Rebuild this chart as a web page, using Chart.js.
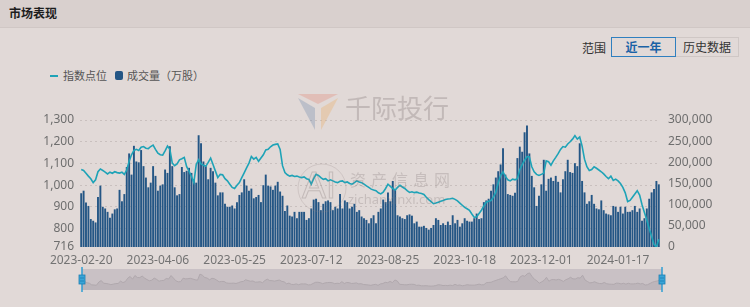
<!DOCTYPE html>
<html>
<head>
<meta charset="utf-8">
<script src="https://cdn.jsdelivr.net/npm/chart.js@4.4.0/dist/chart.umd.min.js"></script>
<style>
  body { margin: 0; width: 750px; height: 307px; background: #e1d9d7; overflow: hidden; position: relative;
         font-family: "Noto Sans CJK SC", "Noto Sans", sans-serif; }
  .head { position: absolute; left: 0; top: 0; width: 750px; height: 27px; background: #d9d0ce; border-bottom: 1px solid #d0c7c5; }
  .head span { position: absolute; left: 9px; top: 4px; font-size: 12px; font-weight: bold; color: #1e1e1e; }
  .range { position: absolute; left: 582px; top: 39px; font-size: 12px; color: #333; }
  .btn { position: absolute; top: 37px; height: 18px; line-height: 18px; font-size: 12px; text-align: center; box-sizing: content-box; }
  .btn.on { left: 611px; width: 63px; border: 1px solid #2f7fbf; color: #1a62a6; font-weight: bold; }
  .btn.off { left: 676px; width: 62px; border: 1px solid #cfc7c5; border-left: none; color: #333; }
  .lg { position: absolute; top: 67px; font-size: 11px; color: #555; }
  .lgLine { position: absolute; left: 50px; top: 75px; width: 8px; height: 2px; background: #1fa3b7; }
  .lgBox { position: absolute; left: 115px; top: 71px; width: 8px; height: 9px; border-radius: 2px; background: #245685; }
  #main { position: absolute; left: 0; top: 82px; }
  #nav { position: absolute; left: 0; top: 266px; }
</style>
</head>
<body>
<div class="head"><span>市场表现</span></div>
<div class="range">范围</div>
<div class="btn on">近一年</div>
<div class="btn off">历史数据</div>
<div class="lgLine"></div><div class="lg" style="left:63px">指数点位</div>
<div class="lgBox"></div><div class="lg" style="left:127px">成交量（万股）</div>
<canvas id="main" width="750" height="188"></canvas>
<canvas id="nav" width="750" height="27"></canvas>
<script>
// trading calendar (SSE holidays in the window)
const startDay = '2023-02-20';
const endDay = '2024-02-19';
const holidays = ['2023-04-05', '2023-05-01', '2023-05-02', '2023-05-03', '2023-06-22', '2023-06-23',
  '2023-09-29', '2023-10-02', '2023-10-03', '2023-10-04', '2023-10-05', '2023-10-06', '2024-01-01',
  '2024-02-09', '2024-02-12', '2024-02-13', '2024-02-14', '2024-02-15', '2024-02-16'];

const dates = [];
for (let d = new Date(startDay + 'T00:00:00Z'); d <= new Date(endDay + 'T00:00:00Z'); d.setUTCDate(d.getUTCDate() + 1)) {
  const s = d.toISOString().slice(0, 10);
  const wd = d.getUTCDay();
  if (wd !== 0 && wd !== 6 && !holidays.includes(s)) dates.push(s);
}

const tickDates = ['2023-02-20', '2023-04-06', '2023-05-25', '2023-07-12', '2023-08-25', '2023-10-18', '2023-12-01', '2024-01-17'];
const leftTicks = [716, 800, 900, 1000, 1100, 1200, 1300];
const rightTicks = [0, 50000, 100000, 150000, 200000, 250000, 300000];

// 指数点位
const indexPoints = [
  1072, 1068, 1055, 1042, 1030, 1012, 1025, 1062, 1075, 1068,
  1060, 1052, 1060, 1055, 1062, 1058, 1056, 1060, 1050, 1070,
  1110, 1140, 1160, 1165, 1160, 1175, 1178, 1170, 1168, 1178,
  1185, 1165, 1147, 1140, 1138, 1158, 1180, 1165, 1102, 1090,
  1098, 1117, 1122, 1128, 1085, 1065, 1040, 1012, 1095, 1117,
  1098, 1092, 1087, 1105, 1125, 1095, 1065, 1035, 1050, 1048,
  1030, 1020, 1005, 990, 985, 1000, 1012, 1035, 1057, 1080,
  1102, 1132, 1120, 1128, 1110, 1125, 1140, 1162, 1165, 1177,
  1185, 1188, 1190, 1165, 1090, 1058, 1048, 1042, 1045, 1040,
  1042, 1038, 1035, 1038, 1030, 1027, 1005, 1030, 1050, 1045,
  1035, 1027, 1030, 1020, 1025, 1020, 1015, 1012, 1018, 1020,
  1012, 1015, 1008, 1005, 1012, 1020, 1015, 1012, 1005, 997,
  990, 982, 978, 975, 965, 960, 968, 985, 1005, 995,
  985, 978, 990, 1000, 992, 985, 975, 967, 970, 966,
  968, 964, 962, 958, 945, 934, 925, 915, 918, 922,
  926, 930, 934, 937, 938, 940, 935, 928, 918, 908,
  898, 892, 885, 868, 852, 855, 870, 885, 905, 922,
  926, 930, 945, 968, 1010, 1045, 1062, 1040, 1025, 1020,
  1028, 1025, 1030, 1072, 1095, 1115, 1132, 1130, 1085, 1062,
  1050, 1045, 1050, 1055, 1112, 1108, 1092, 1112, 1128, 1145,
  1165, 1178, 1175, 1190, 1200, 1212, 1228, 1212, 1222, 1180,
  1120, 1085, 1068, 1072, 1085, 1078, 1070, 1062, 1052, 1040,
  1030, 1042, 1022, 1028, 1020, 1008, 990, 965, 925, 930,
  945, 960, 975, 955, 910, 875, 840, 800, 765, 728,
  716, 752
];

// 成交量（万股）
const volume = [
  127000, 133000, 105000, 97000, 66000, 62000, 58000, 118000, 145000, 95000,
  91000, 83000, 69000, 79000, 89000, 91000, 135000, 108000, 125000, 189000,
  221000, 171000, 239000, 202000, 200000, 229000, 191000, 164000, 141000, 152000,
  191000, 168000, 133000, 145000, 148000, 183000, 175000, 238000, 191000, 141000,
  122000, 125000, 189000, 177000, 180000, 187000, 175000, 160000, 152000, 264000,
  245000, 202000, 191000, 160000, 187000, 179000, 152000, 122000, 129000, 129000,
  102000, 95000, 95000, 98000, 91000, 106000, 123000, 129000, 160000, 145000,
  133000, 138000, 115000, 118000, 123000, 106000, 146000, 171000, 145000, 143000,
  135000, 145000, 154000, 131000, 121000, 85000, 98000, 74000, 72000, 83000,
  68000, 83000, 83000, 83000, 64000, 68000, 91000, 112000, 114000, 106000,
  87000, 102000, 108000, 110000, 106000, 87000, 95000, 91000, 125000, 91000,
  110000, 106000, 91000, 95000, 102000, 83000, 87000, 72000, 68000, 64000,
  56000, 68000, 75000, 56000, 83000, 91000, 112000, 106000, 129000, 108000,
  156000, 137000, 75000, 72000, 68000, 66000, 75000, 77000, 74000, 56000,
  60000, 48000, 48000, 50000, 45000, 41000, 45000, 52000, 68000, 64000,
  52000, 56000, 52000, 60000, 52000, 75000, 56000, 64000, 48000, 56000,
  68000, 62000, 60000, 60000, 68000, 79000, 66000, 68000, 106000, 110000,
  114000, 133000, 148000, 164000, 179000, 195000, 233000, 171000, 125000, 123000,
  121000, 128000, 210000, 237000, 225000, 271000, 287000, 221000, 168000, 141000,
  97000, 121000, 148000, 206000, 133000, 161000, 164000, 156000, 168000, 154000,
  129000, 160000, 179000, 206000, 177000, 175000, 198000, 191000, 245000, 156000,
  129000, 102000, 108000, 123000, 102000, 91000, 89000, 110000, 87000, 79000,
  77000, 75000, 97000, 95000, 83000, 95000, 79000, 95000, 83000, 83000,
  87000, 97000, 83000, 91000, 62000, 68000, 91000, 114000, 129000, 137000,
  156000, 148000
];

Chart.defaults.font.family = '"Noto Sans", "Noto Sans CJK SC", sans-serif';
Chart.defaults.font.size = 12;

const fmt = v => Number(v).toLocaleString('en-US');

// faint watermark drawn over the plot
const watermark = {
  id: 'watermark',
  afterDatasetsDraw(chart) {
    const ctx = chart.ctx;
    const oy = -82;
    ctx.save();
    // logo
    const cx = 318, cy = 110 + oy, r = 20;
    const tri = (pts, col) => {
      ctx.beginPath();
      ctx.moveTo(pts[0][0], pts[0][1]);
      pts.slice(1).forEach(p => ctx.lineTo(p[0], p[1]));
      ctx.closePath();
      ctx.fillStyle = col;
      ctx.fill();
    };
    tri([[cx - r, cy - r + 4], [cx + r, cy - r + 4], [cx, cy - 6]], 'rgba(225,130,110,0.30)');
    tri([[cx - r, cy - r + 8], [cx - 3, cy - 2], [cx - 3, cy + r]], 'rgba(95,125,165,0.28)');
    tri([[cx + r, cy - r + 8], [cx + 3, cy - 2], [cx + 3, cy + r]], 'rgba(235,170,90,0.30)');
    ctx.fillStyle = 'rgba(130,118,118,0.32)';
    ctx.textBaseline = 'middle';
    ctx.font = '26px "Noto Sans CJK SC"';
    ctx.fillText('千际投行', 345, 108 + oy);
    // second mark
    ctx.strokeStyle = 'rgba(140,128,128,0.22)';
    ctx.lineWidth = 1;
    ctx.beginPath();
    ctx.arc(322, 188 + oy, 24, 0, Math.PI * 2);
    ctx.stroke();
    ctx.strokeStyle = 'rgba(140,128,128,0.35)';
    ctx.font = '36px "Liberation Sans"';
    ctx.strokeText('AI', 302, 188 + oy);
    ctx.fillStyle = 'rgba(130,118,118,0.28)';
    ctx.font = '16px "Noto Sans CJK SC"';
    '资产信息网'.split('').forEach((ch, i) => ctx.fillText(ch, 350 + i * 21, 180 + oy));
    ctx.font = '13px "Noto Sans"';
    ctx.fillText('zichanxinxi.com', 348, 200 + oy);
    ctx.restore();
  }
};

new Chart(document.getElementById('main'), {
  data: {
    labels: dates,
    datasets: [
      {
        type: 'line',
        label: '指数点位',
        data: indexPoints,
        yAxisID: 'y',
        borderColor: '#1ea3b7',
        borderWidth: 1.6,
        pointRadius: 0,
        tension: 0,
        order: 0
      },
      {
        type: 'bar',
        label: '成交量（万股）',
        data: volume,
        yAxisID: 'y1',
        backgroundColor: '#245685',
        barPercentage: 0.8,
        categoryPercentage: 1,
        order: 1
      }
    ]
  },
  options: {
    responsive: false,
    animation: false,
    events: [],
    layout: { padding: { top: 38 } },
    plugins: { legend: { display: false }, tooltip: { enabled: false } },
    scales: {
      x: {
        grid: { display: false, drawTicks: false },
        border: { display: false },
        ticks: {
          autoSkip: false,
          maxRotation: 0,
          padding: 6,
          color: '#737373',
          callback: (v, i) => tickDates.includes(dates[i]) ? dates[i] : ''
        },
        afterFit(s) { s.height = 23; }
      },
      y: {
        position: 'left',
        min: 716,
        max: 1300,
        afterBuildTicks(s) { s.ticks = leftTicks.map(v => ({ value: v })); },
        ticks: { color: '#6e6e6e', padding: 6, callback: fmt },
        grid: {
          drawTicks: false,
          color: c => c.tick && c.tick.value === 716 ? 'rgba(0,0,0,0)' : '#c9c0be'
        },
        border: { display: false, dash: [2, 3] },
        afterFit(s) { s.width = 80; }
      },
      y1: {
        position: 'right',
        min: 0,
        max: 300000,
        afterBuildTicks(s) { s.ticks = rightTicks.map(v => ({ value: v })); },
        ticks: { color: '#6e6e6e', padding: 8, callback: fmt },
        grid: { display: false, drawTicks: false },
        border: { display: false },
        afterFit(s) { s.width = 90; }
      }
    }
  },
  plugins: [watermark]
});

// range navigator under the chart
const navDecor = {
  id: 'navDecor',
  beforeDatasetsDraw(chart) {
    const a = chart.chartArea, ctx = chart.ctx;
    ctx.save();
    ctx.fillStyle = '#c9c1c5';
    ctx.fillRect(a.left, a.top, a.right - a.left, a.bottom - a.top);
    ctx.restore();
  },
  afterDraw(chart) {
    const a = chart.chartArea, ctx = chart.ctx;
    ctx.save();
    [a.left, a.right].forEach(x => {
      ctx.strokeStyle = '#2f9ed3';
      ctx.lineWidth = 1.5;
      ctx.beginPath();
      ctx.moveTo(x, a.top - 2);
      ctx.lineTo(x, a.bottom + 2);
      ctx.stroke();
      ctx.fillStyle = '#3aa5d8';
      ctx.fillRect(x - 3, a.top + 6, 6, 9);
      ctx.strokeStyle = '#1d7fb3';
      ctx.lineWidth = 0.8;
      ctx.strokeRect(x - 3, a.top + 6, 6, 9);
      ctx.beginPath();
      ctx.moveTo(x - 2, a.top + 9); ctx.lineTo(x + 2, a.top + 9);
      ctx.moveTo(x - 2, a.top + 12); ctx.lineTo(x + 2, a.top + 12);
      ctx.stroke();
    });
    ctx.restore();
  }
};

new Chart(document.getElementById('nav'), {
  type: 'line',
  data: {
    labels: dates,
    datasets: [{
      data: volume,
      borderColor: '#b0a8ad',
      borderWidth: 1,
      backgroundColor: '#bdb5ba',
      fill: 'start',
      pointRadius: 0,
      tension: 0
    }]
  },
  options: {
    responsive: false,
    animation: false,
    events: [],
    layout: { padding: { left: 82, right: 88, top: 3, bottom: 3 } },
    plugins: { legend: { display: false }, tooltip: { enabled: false } },
    scales: {
      x: { display: false },
      y: { display: false, min: -30000, max: 360000 }
    }
  },
  plugins: [navDecor]
});
</script>
</body>
</html>
